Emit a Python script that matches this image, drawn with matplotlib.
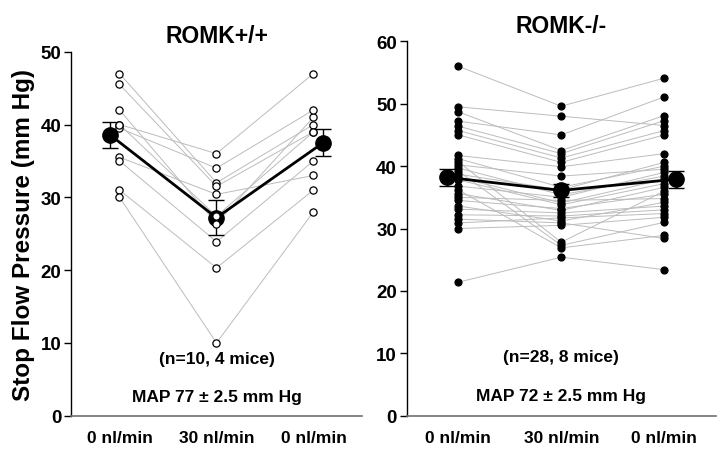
import matplotlib
matplotlib.use("Agg")
import matplotlib.pyplot as plt
import numpy as np

# ---------------- data ----------------
conditions = ["0 nl/min", "30 nl/min", "0 nl/min"]

# ROMK+/+ individual nephrons (same order in each list = same nephron)
wt_before = [47.0, 45.5, 42.0, 40.0, 39.5, 40.0, 35.5, 35.0, 31.0, 30.0]
wt_during = [32.0, 31.5, 26.4, 36.0, 34.0, 27.4, 30.4, 23.9, 20.3, 10.0]
wt_after  = [40.0, 39.0, 41.0, 47.0, 42.0, 39.0, 33.0, 35.0, 31.0, 28.0]
wt_mean = [38.6, 27.2, 37.5]
wt_sem  = [1.8, 2.4, 1.85]

# ROMK-/- individual nephrons
ko_before = [56.0, 49.5, 48.7, 47.2, 46.4, 45.7, 45.0, 41.7, 41.2, 40.7,
             40.2, 39.7, 39.2, 38.7, 38.2, 37.8, 36.8, 36.2, 35.6, 35.0,
             34.5, 33.6, 33.1, 32.2, 31.5, 30.9, 30.0, 21.4]
ko_during = [49.6, 48.0, 42.5, 45.0, 42.0, 41.3, 40.6, 39.9, 36.6, 27.8,
             38.4, 35.4, 27.3, 36.2, 34.1, 33.8, 35.0, 26.9, 32.9, 34.5,
             33.2, 31.2, 32.5, 32.0, 30.9, 31.7, 30.5, 25.4]
ko_after  = [54.1, 46.5, 48.1, 51.1, 47.3, 45.7, 45.0, 42.0, 40.0, 36.0,
             39.5, 38.4, 31.0, 40.6, 37.9, 37.2, 39.0, 28.9, 36.6, 34.8,
             35.5, 34.2, 33.6, 33.0, 28.4, 32.4, 31.8, 23.4]
ko_mean = [38.2, 36.1, 37.9]
ko_sem  = [1.35, 1.1, 1.35]

titles = ["ROMK+/+", "ROMK-/-"]
n_text = ["(n=10, 4 mice)", "(n=28, 8 mice)"]
map_text = ["MAP 77 \u00b1 2.5 mm Hg", "MAP 72 \u00b1 2.5 mm Hg"]
ylims = [(0, 50), (0, 60)]
yticks = [[0, 10, 20, 30, 40, 50], [0, 10, 20, 30, 40, 50, 60]]

# ---------------- figure ----------------
plt.rcParams['font.family'] = ['Liberation Sans', 'DejaVu Sans']

fig = plt.figure(figsize=(7.26, 4.52), dpi=100)
axL = fig.add_axes([0.0978, 0.0781, 0.4008, 0.8053])
axR = fig.add_axes([0.5602, 0.0781, 0.4258, 0.8283])

xpos = np.array([1, 2, 3])
mean_x = [np.array([0.9, 2.0, 3.1]), np.array([0.893, 2.0, 3.11])]

panels = [
    (axL, wt_before, wt_during, wt_after, wt_mean, wt_sem, 'white'),
    (axR, ko_before, ko_during, ko_after, ko_mean, ko_sem, 'black'),
]

for i, (ax, b, d, a, m, s, face) in enumerate(panels):
    for vb, vd, va in zip(b, d, a):
        ax.plot(xpos, [vb, vd, va], color='#bcbcbc', lw=0.7, zorder=1)
    ax.errorbar(mean_x[i], m, yerr=s, fmt='none', ecolor='black',
                elinewidth=1.0, capsize=5.5, capthick=1.0, zorder=3)
    ax.plot(mean_x[i], m, color='black', lw=2.0, marker='o', ms=11,
            mfc='black', mec='black', zorder=4)
    for xp, vals in zip(xpos, [b, d, a]):
        ax.plot([xp] * len(vals), vals, linestyle='none', marker='o',
                ms=5.2 if i == 0 else 5.0, mfc=face, mec='black', mew=0.9,
                zorder=5)

    ax.set_xlim(0.5, 3.5)
    ax.set_ylim(*ylims[i])
    ax.set_yticks(yticks[i])
    ax.set_yticklabels([str(t) for t in yticks[i]], fontsize=13.5,
                       fontweight='bold')
    ax.set_xticks(xpos)
    ax.set_xticklabels(conditions, fontsize=12.5, fontweight='bold')
    ax.tick_params(axis='x', length=0, pad=10)
    ax.tick_params(axis='y', length=5, width=1, direction='out', pad=2)
    ax.spines['top'].set_visible(False)
    ax.spines['right'].set_visible(False)
    ax.spines['left'].set_color('black')
    ax.spines['bottom'].set_color('#707070')
    ax.spines['left'].set_linewidth(1.0)
    ax.spines['bottom'].set_linewidth(1.2)

axL.text(2, 52.2, titles[0], ha='center', va='center', fontsize=16.5,
         fontweight='bold')
axR.text(2, 62.5, titles[1], ha='center', va='center', fontsize=16.5,
         fontweight='bold')

axL.text(2, 7.8, n_text[0], ha='center', va='center', fontsize=12.5,
         fontweight='bold')
axL.text(2, 2.7, map_text[0], ha='center', va='center', fontsize=12.5,
         fontweight='bold')
axR.text(2, 9.5, n_text[1], ha='center', va='center', fontsize=12.5,
         fontweight='bold')
axR.text(2, 3.3, map_text[1], ha='center', va='center', fontsize=12.5,
         fontweight='bold')

axL.set_ylabel("Stop Flow Pressure (mm Hg)", fontsize=17.5,
               fontweight='bold', labelpad=4)

fig.savefig("out.png", dpi=100)
